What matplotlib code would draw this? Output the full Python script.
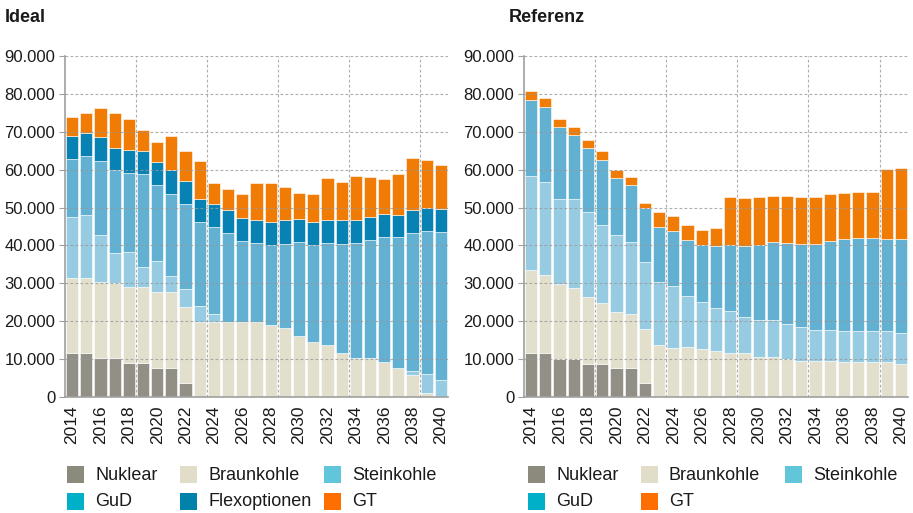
import matplotlib
matplotlib.use("Agg")
import matplotlib.pyplot as plt
from matplotlib.patches import Rectangle
from matplotlib.ticker import FuncFormatter, MultipleLocator
import numpy as np

plt.rcParams['font.family'] = ['Liberation Sans', 'DejaVu Sans']

years = list(range(2014, 2041))

# Ideal scenario (MW)
ideal_nuklear = [11500, 11500, 10200, 10200, 8900, 8900, 7700, 7700, 3700] + [0] * 18
ideal_braun = [20000, 20000, 20100, 19800, 20200, 20200, 20100, 20100, 20100,
               19800, 19800, 19800, 19800, 19800, 19100, 18300, 16200, 14400,
               13600, 11500, 10200, 10200, 9200, 7600, 5700, 1100, 0]
ideal_stein = [16100, 16500, 12400, 8100, 9200, 5300, 8100, 4200, 4700,
               4300, 2000, 0, 0, 0, 0, 0, 0, 0,
               0, 0, 0, 0, 0, 0, 1100, 4900, 4600]
ideal_gud = [15200, 15600, 19600, 21800, 20800, 24500, 20000, 21700, 22400,
             22100, 23100, 23500, 21400, 20800, 21100, 22100, 24700, 25800,
             27000, 28900, 30400, 31200, 33000, 34600, 36500, 37800, 38900]
ideal_flex = [6200, 6200, 6200, 5900, 6200, 6100, 6200, 6200, 6200,
              6100, 6100, 6100, 6100, 6200, 6100, 6200, 6200, 6100,
              6000, 6200, 6200, 6200, 6200, 5900, 6100, 6000, 6200]
ideal_gt = [5000, 5200, 7800, 9200, 8100, 5600, 5100, 9100, 7900,
            10000, 5500, 5500, 6400, 9700, 10200, 8900, 6800, 7300,
            11200, 10100, 11500, 10500, 9100, 10800, 13600, 12700, 11400]

# Referenz scenario (MW)
ref_nuklear = [11500, 11500, 10100, 10100, 8800, 8800, 7600, 7600, 3600] + [0] * 18
ref_braun = [21900, 20800, 19800, 18800, 17500, 16100, 14800, 14300, 14400,
             13600, 13000, 13100, 12600, 12100, 11500, 11500, 10500, 10500,
             10000, 9400, 9400, 9400, 9200, 9200, 9200, 9200, 8600]
ref_stein = [24900, 24400, 22300, 23300, 22500, 20500, 20300, 19000, 17600,
             16700, 16300, 13500, 12400, 11300, 11200, 9700, 9800, 9800,
             9200, 9000, 8200, 8200, 8200, 8200, 8200, 8200, 8200]
ref_gud = [20000, 19900, 19000, 16900, 16800, 17100, 15200, 15000, 14400,
           14500, 14500, 14800, 15100, 16500, 17500, 18700, 19900, 20600,
           21400, 22000, 22800, 23500, 24300, 24500, 24500, 24300, 24900]
ref_gt = [2500, 2300, 2200, 2100, 2200, 2300, 2100, 2200, 1300,
          3900, 4100, 3900, 3900, 4700, 12500, 12500, 12500, 12200,
          12400, 12300, 12300, 12400, 12200, 12300, 12300, 18400, 18700]

bar_colors = {
    'Nuklear': '#918f86',
    'Braunkohle': '#e2dfcd',
    'Steinkohle': '#97cbe1',
    'GuD': '#62b1d3',
    'Flexoptionen': '#0881b3',
    'GT': '#f07b05',
}
legend_colors = {
    'Nuklear': '#8c8a7d',
    'Braunkohle': '#e2ddc8',
    'Steinkohle': '#62c6da',
    'GuD': '#00b0c9',
    'Flexoptionen': '#0082ab',
    'GT': '#ff6e00',
}

text_color = '#1a1a1a'
axis_color = '#a0a0a0'
W, H = 913, 513

fig = plt.figure(figsize=(9.13, 5.13), dpi=100)
ax_left = fig.add_axes([65 / W, 1 - 397 / H, 383 / W, 341 / H])
ax_right = fig.add_axes([524 / W, 1 - 397 / H, 384 / W, 341 / H])


def draw_stack(ax, series):
    x = np.array(years)
    bottom = np.zeros(len(years))
    for name, vals in series:
        vals = np.array(vals, dtype=float)
        ax.bar(x, vals, width=0.86, bottom=bottom, color=bar_colors[name],
               edgecolor='white', linewidth=0.4, zorder=2)
        bottom += vals


def style_axes(ax):
    ax.set_xlim(2013.5, 2040.5)
    ax.set_ylim(0, 90000)
    ax.yaxis.set_major_locator(MultipleLocator(10000))
    ax.yaxis.set_major_formatter(FuncFormatter(lambda v, p: f"{int(v):,}".replace(',', '.')))
    ax.set_xticks(range(2014, 2041, 2))
    ax.set_xticklabels([str(y) for y in range(2014, 2041, 2)], rotation=90)
    ax.tick_params(axis='x', length=0, pad=6, labelsize=12.5, labelcolor=text_color)
    ax.tick_params(axis='y', length=4, color=axis_color, pad=3, labelsize=12, labelcolor=text_color)
    for s in ['top', 'right']:
        ax.spines[s].set_visible(False)
    for s in ['left', 'bottom']:
        ax.spines[s].set_color(axis_color)
        ax.spines[s].set_linewidth(1.2)
    for v in range(10000, 90001, 10000):
        ax.axhline(v, color='#999999', linestyle=(0, (2.5, 2)), linewidth=0.8, alpha=0.8, zorder=3)
    for xv in [2018.5, 2023.5, 2028.5, 2033.5, 2038.5]:
        ax.axvline(xv, color='#999999', linestyle=(0, (2.5, 2)), linewidth=0.8, alpha=0.8, zorder=3)


draw_stack(ax_left, [('Nuklear', ideal_nuklear), ('Braunkohle', ideal_braun),
                     ('Steinkohle', ideal_stein), ('GuD', ideal_gud),
                     ('Flexoptionen', ideal_flex), ('GT', ideal_gt)])
draw_stack(ax_right, [('Nuklear', ref_nuklear), ('Braunkohle', ref_braun),
                      ('Steinkohle', ref_stein), ('GuD', ref_gud), ('GT', ref_gt)])
style_axes(ax_left)
style_axes(ax_right)

fig.text(5 / W, 1 - 18 / H, 'Ideal', fontsize=13, fontweight='bold', color=text_color, va='center')
fig.text(509 / W, 1 - 18 / H, 'Referenz', fontsize=13, fontweight='bold', color=text_color, va='center')


def add_legend(x0, rows):
    col_offsets = [0, 113, 257]
    row_tops = [466, 493]
    for r, row in enumerate(rows):
        for c, name in enumerate(row):
            px = x0 + col_offsets[c]
            py = row_tops[r]
            fig.patches.append(Rectangle((px / W, 1 - (py + 17) / H), 17 / W, 17 / H,
                                         transform=fig.transFigure, facecolor=legend_colors[name],
                                         edgecolor='none'))
            fig.text((px + 28) / W, 1 - (py + 9) / H, name, fontsize=13,
                     color=text_color, va='center')


add_legend(67, [['Nuklear', 'Braunkohle', 'Steinkohle'], ['GuD', 'Flexoptionen', 'GT']])
add_legend(528, [['Nuklear', 'Braunkohle', 'Steinkohle'], ['GuD', 'GT']])

fig.savefig('out.png', dpi=100)
